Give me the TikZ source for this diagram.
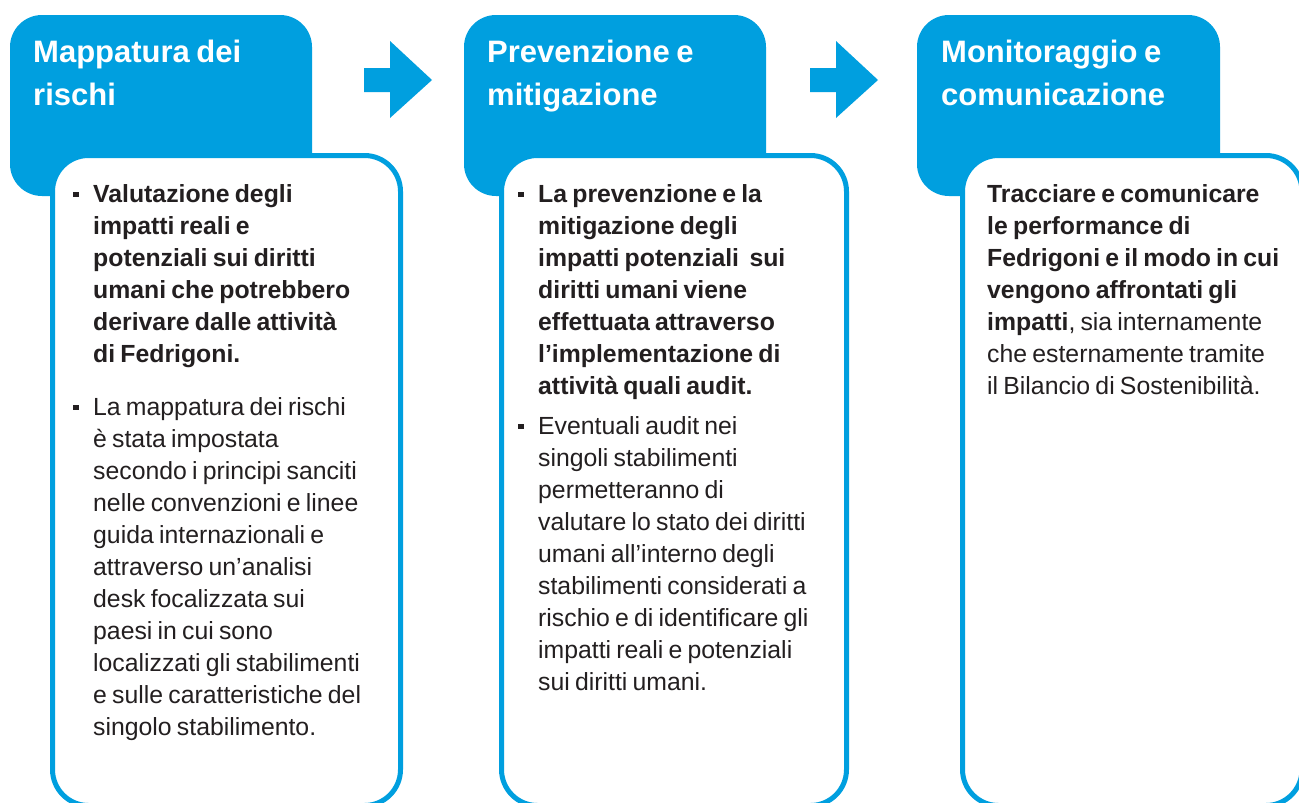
\documentclass[tikz,border=0pt]{standalone}
\usepackage{fontspec}
\setmainfont{Liberation Sans}
\definecolor{fblue}{HTML}{009FDF}
\definecolor{ftext}{HTML}{231F20}
\newcommand{\tightsp}{\spaceskip=0.21em\relax}
\tikzset{
  header/.style={fill=fblue, rounded corners=32pt},
  card/.style={draw=fblue, line width=5pt, fill=white, rounded corners=36pt},
  flowarrow/.style={fill=fblue},
  title/.style={anchor=base west, inner sep=0pt, text=white, text width=290pt,
    font=\fontsize{31}{43}\selectfont\bfseries, align=left, execute at begin node=\tightsp},
  body/.style={anchor=base west, inner sep=0pt, text=ftext,
    font=\fontsize{24.8}{32}\selectfont, text width=345pt, align=left, execute at begin node=\tightsp}
}
\newcommand{\sqbullet}{\makebox[20pt][l]{\rule[5pt]{5.5pt}{5.5pt}}}
\newcommand{\bpar}[1]{\leftskip=20pt\noindent\hspace*{-20pt}\sqbullet#1\par}
\begin{document}
\begin{tikzpicture}[x=1pt,y=-1pt]
\useasboundingbox (0,0) rectangle (1299,803);
\clip (0,0) rectangle (1299,803);
\fill[white] (0,0) rectangle (1299,803);

% headers
\path[header] (10,15) rectangle (312,196);
\path[header] (464,15) rectangle (766,196);
\path[header] (917,15) rectangle (1220,196);

% arrows
\fill[flowarrow] (364,68) -- (390,68) -- (390,41) -- (432,80) -- (390,118) -- (390,92) -- (364,92) -- cycle;
\fill[flowarrow] (810,68) -- (836,68) -- (836,41) -- (878,80) -- (836,118) -- (836,92) -- (810,92) -- cycle;

% cards
\draw[card] (52.5,155.5) rectangle (400.5,805.5);
\draw[card] (501.5,155.5) rectangle (846.5,805.5);
\draw[card] (962.5,155.5) rectangle (1302,805.5);

% titles
\node[title] (t1) at (33,62) {Mappatura dei\\rischi};
\node[title] (t2) at (487,62) {Prevenzione e\\mitigazione};
\node[title] (t3) at (941,62) {Monitoraggio e\\comunicazione};

% column 1
\node[body] (b1a) at (73,202) {\bpar{\textbf{Valutazione degli\\impatti reali e\\potenziali sui diritti\\umani che potrebbero\\derivare dalle attività\\di Fedrigoni.}}};
\node[body] (b1b) at (73,415) {\bpar{La mappatura dei rischi\\è stata impostata\\secondo i principi sanciti\\nelle convenzioni e linee\\guida internazionali e\\attraverso un’analisi\\desk focalizzata sui\\paesi in cui sono\\localizzati gli stabilimenti\\e sulle caratteristiche del\\singolo stabilimento.}};

% column 2
\node[body] (b2a) at (518,202) {\bpar{\textbf{La prevenzione e la\\mitigazione degli\\impatti potenziali\ \ sui\\diritti umani viene\\effettuata attraverso\\l’implementazione di\\attività quali audit.}}};
\node[body] (b2b) at (518,434) {\bpar{Eventuali audit nei\\singoli stabilimenti\\permetteranno di\\valutare lo stato dei diritti\\umani all’interno degli\\stabilimenti considerati a\\rischio e di identificare gli\\impatti reali e potenziali\\sui diritti umani.}};

% column 3
\node[body, text width=320pt] (b3) at (987,202) {\textbf{Tracciare e comunicare\\le performance di\\Fedrigoni e il modo in cui\\vengono affrontati gli\\impatti}, sia internamente\\che esternamente tramite\\il Bilancio di Sostenibilità.};
\end{tikzpicture}
\end{document}
